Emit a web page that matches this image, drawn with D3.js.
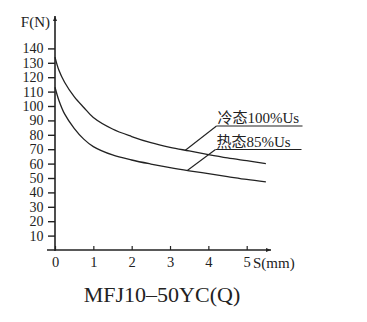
<!DOCTYPE html>
<html>
<head>
<meta charset="utf-8">
<script src="https://cdn.jsdelivr.net/npm/d3@7/dist/d3.min.js"></script>
<style>
  html, body { margin: 0; padding: 0; background: #fff; }
  svg { display: block; }
  text { font-family: "Liberation Serif", "DejaVu Serif", serif; fill: #222; }
  .cjk { font-family: "Liberation Serif", "Noto Sans CJK SC", serif; }
</style>
</head>
<body>
<svg id="chart" width="367" height="322"></svg>
<script>
// Stroke S (mm) against suction force F (N)
const strokes = [0, 0.1, 0.25, 0.5, 0.75, 1, 1.5, 2, 2.5, 3, 3.5, 4, 4.5, 5, 5.5];
const coldForce = [134, 125, 116.5, 106.5, 99, 92, 84, 78.8, 74.5, 71.3, 68.8, 66.3, 64, 62, 60];
const hotForce  = [113, 104, 94.5, 84.5, 77, 71.8, 66, 62.5, 59.7, 57.2, 55, 53, 51, 49, 47.3];

const seriesNames = ["冷态100%Us", "热态85%Us"];
// stroke at which each callout touches its curve
const calloutAt = [3.4, 3.45];

const xTicks = [0, 1, 2, 3, 4, 5];
const yTicks = [10, 20, 30, 40, 50, 60, 70, 80, 90, 100, 110, 120, 130, 140];

const xTitle = "S(mm)";
const yTitle = "F(N)";
const chartTitle = "MFJ10–50YC(Q)";

const ink = "#222";
const svg = d3.select("#chart");

const x = d3.scaleLinear().domain([0, 5]).range([55, 246.7]);
const y = d3.scaleLinear().domain([0, 140]).range([250, 48.4]);

// arrowhead marker
svg.append("defs").append("marker")
  .attr("id", "arrow")
  .attr("viewBox", "0 0 10 10")
  .attr("refX", 10).attr("refY", 5)
  .attr("markerWidth", 10).attr("markerHeight", 5)
  .attr("markerUnits", "userSpaceOnUse")
  .attr("orient", "auto")
  .append("path")
  .attr("d", "M0,1 L10,5 L0,9 Z")
  .attr("fill", ink);

// y axis ticks and labels
const yAxis = svg.append("g")
  .attr("transform", `translate(${x(0)},0)`)
  .call(d3.axisLeft(y).tickValues(yTicks).tickSize(7).tickPadding(4.5));
yAxis.select(".domain").remove();
yAxis.selectAll("line").attr("stroke", ink).attr("stroke-width", 1.4);
yAxis.selectAll("text")
  .style("font-size", "14px")
  .style("font-family", "Liberation Serif")
  .attr("fill", ink);

// x axis ticks and labels (ticks point up into the plot)
const xAxis = svg.append("g")
  .attr("transform", `translate(0,${y(0)})`)
  .call(d3.axisBottom(x).tickValues(xTicks).tickFormat(d3.format("d")).tickSize(-4).tickPadding(7));
xAxis.select(".domain").remove();
xAxis.selectAll("line").attr("stroke", ink).attr("stroke-width", 1.2);
xAxis.selectAll("text")
  .style("font-size", "14.5px")
  .style("font-family", "Liberation Serif")
  .attr("fill", ink);

// axis lines with arrows
svg.append("line")
  .attr("x1", x(0)).attr("y1", y(0) + 1)
  .attr("x2", x(0)).attr("y2", 16)
  .attr("stroke", ink).attr("stroke-width", 1.6)
  .attr("marker-end", "url(#arrow)");
svg.append("line")
  .attr("x1", 47).attr("y1", y(0))
  .attr("x2", 271).attr("y2", y(0))
  .attr("stroke", ink).attr("stroke-width", 1.6)
  .attr("marker-end", "url(#arrow)");

svg.append("text")
  .attr("x", 50).attr("y", 27)
  .attr("text-anchor", "end")
  .style("font-size", "15px")
  .text(yTitle);

svg.append("text")
  .attr("x", 253).attr("y", 267.5)
  .style("font-size", "15px")
  .text(xTitle);

// curves
const line = d3.line()
  .x(d => x(d[0]))
  .y(d => y(d[1]))
  .curve(d3.curveCatmullRom.alpha(0.5));

const series = [coldForce, hotForce];
series.forEach(vals => {
  svg.append("path")
    .datum(strokes.map((s, i) => [s, vals[i]]))
    .attr("d", line)
    .attr("fill", "none")
    .attr("stroke", ink)
    .attr("stroke-width", 1.3);
});

// callouts: leader line from curve up to an underlined label
const valueAt = (vals, s) => {
  const i = d3.bisectRight(strokes, s) - 1;
  const t = (s - strokes[i]) / (strokes[i + 1] - strokes[i]);
  return vals[i] + t * (vals[i + 1] - vals[i]);
};
const labelPos = [
  { x: 216.5, y: 126, end: 302.5 },
  { x: 215.5, y: 149.5, end: 301.5 }
];
series.forEach((vals, k) => {
  const s = calloutAt[k];
  const p = labelPos[k];
  svg.append("line")
    .attr("x1", x(s)).attr("y1", y(valueAt(vals, s)))
    .attr("x2", p.x).attr("y2", p.y)
    .attr("stroke", ink).attr("stroke-width", 1.1);
  svg.append("line")
    .attr("x1", p.x).attr("y1", p.y)
    .attr("x2", p.end).attr("y2", p.y)
    .attr("stroke", ink).attr("stroke-width", 1.1);
  svg.append("text")
    .attr("class", "cjk")
    .attr("x", p.x + 1).attr("y", p.y - 3)
    .style("font-size", "15px")
    .text(seriesNames[k]);
});

// model title
svg.append("text")
  .attr("x", 162).attr("y", 302)
  .attr("text-anchor", "middle")
  .style("font-size", "22px")
  .text(chartTitle);
</script>
</body>
</html>
